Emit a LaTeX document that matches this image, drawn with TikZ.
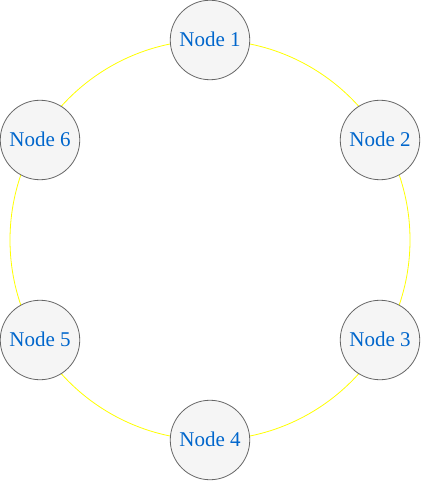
\documentclass[tikz,border=0pt]{standalone}
\usepackage{fontspec}
\setmainfont{Liberation Serif}
\begin{document}
\begin{tikzpicture}[x=1pt,y=-1pt,
  ringnode/.style={circle, draw=nodestroke, fill=nodefill, line width=0.8pt, minimum size=79.5pt, inner sep=0pt, text depth=2.5pt, text=nodetext, font=\fontsize{21}{24}\selectfont}]
\definecolor{nodestroke}{HTML}{666666}
\definecolor{nodefill}{HTML}{F5F5F5}
\definecolor{nodetext}{HTML}{0066CC}
\definecolor{ring}{HTML}{FFFF00}
\useasboundingbox (0,0) rectangle (421,481);
\coordinate (c) at (210,240);
\draw[ring, line width=0.8pt] (c) circle[radius=200];
\node[ringnode] (n1) at (210,40) {Node 1};
\node[ringnode] (n2) at (380,140) {Node 2};
\node[ringnode] (n3) at (380,340) {Node 3};
\node[ringnode] (n4) at (210,440) {Node 4};
\node[ringnode] (n5) at (40,340) {Node 5};
\node[ringnode] (n6) at (40,140) {Node 6};
\end{tikzpicture}
\end{document}
